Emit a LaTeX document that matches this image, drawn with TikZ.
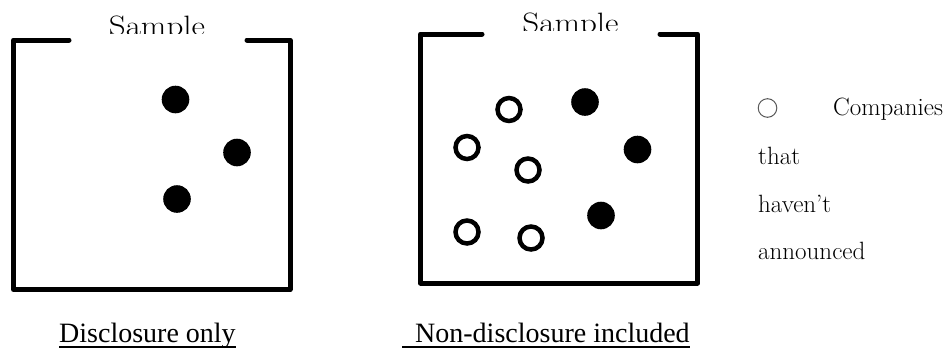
\documentclass[tikz,border=0pt]{standalone}
\usepackage{fontspec}
\newfontfamily\labelfont{Liberation Serif}
\begin{document}
\begin{tikzpicture}[x=1pt,y=-1pt,
  wall/.style={line width=5pt,line join=round,line cap=round},
  fulldot/.style={fill=black},
  emptydot/.style={draw=black,line width=4.5pt,fill=white},
  heading/.style={inner sep=0pt,anchor=base,font=\fontsize{28}{32}\selectfont},
  legendtext/.style={inner sep=0pt,anchor=base west,font=\fontsize{25}{28}\selectfont},
  caption/.style={inner sep=0pt,anchor=base west,font=\labelfont\fontsize{28}{32}\selectfont},
  underbar/.style={line width=2pt}]
\useasboundingbox (0,0) rectangle (944,351);

% left container, open at the top
\draw[wall] (69,40) -- (13.5,40) -- (13.5,289.5) -- (290,289.5) -- (290,40) -- (247,40);
% right container, open at the top
\draw[wall] (482,34) -- (420.5,34) -- (420.5,283) -- (697.5,283) -- (697.5,34) -- (660,34);

% titles, cut off at the rim
\begin{scope}
  \clip (0,0) rectangle (944,33);
  \node[heading] (titleA) at (157,35.5) {\scalebox{1.18}[1]{Sample}};
\end{scope}
\begin{scope}
  \clip (0,0) rectangle (944,30);
  \node[heading] (titleB) at (570.5,32.5) {\scalebox{1.18}[1]{Sample}};
\end{scope}

% disclosing companies, left sample
\fill[fulldot] (175.5,99.5) circle[radius=13.8pt];
\fill[fulldot] (237,152.5) circle[radius=13.8pt];
\fill[fulldot] (177,199) circle[radius=13.8pt];

% right sample: disclosing companies
\fill[fulldot] (585,102) circle[radius=13.8pt];
\fill[fulldot] (637.5,149.5) circle[radius=13.8pt];
\fill[fulldot] (601,215.5) circle[radius=13.8pt];
% right sample: companies without disclosure
\draw[emptydot] (509,109.5) circle[radius=11.5pt];
\draw[emptydot] (467,147.5) circle[radius=11.5pt];
\draw[emptydot] (528,170) circle[radius=11.5pt];
\draw[emptydot] (467,232) circle[radius=11.5pt];
\draw[emptydot] (531,238) circle[radius=11.5pt];

% legend
\draw[draw=black!65,line width=1pt] (767.5,108) circle[radius=9.3pt];
\node[legendtext] (legA) at (833,115) {Companies};
\node[legendtext] (legB) at (758,164) {that};
\node[legendtext] (legC) at (758,212) {haven’t};
\node[legendtext] (legD) at (758,259) {announced};

% captions with underlines
\node[caption] (capA) at (59,342) {Disclosure only};
\node[caption] (capB) at (415,342) {Non-disclosure included};
\draw[underbar] ([yshift=-5pt]capA.base west) -- ([yshift=-5pt]capA.base east);
\draw[underbar] ([xshift=-13pt,yshift=-5pt]capB.base west) -- ([yshift=-5pt]capB.base east);
\end{tikzpicture}
\end{document}
